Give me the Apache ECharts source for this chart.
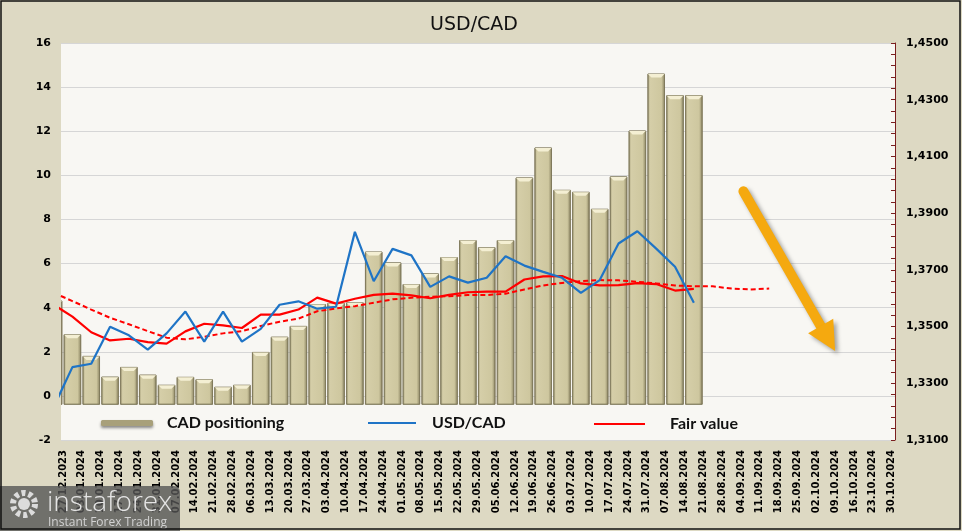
<!DOCTYPE html>
<html>
<head>
<meta charset="utf-8">
<script src="https://cdn.jsdelivr.net/npm/echarts@6/dist/echarts.min.js"></script>
<style>
html,body{margin:0;padding:0;background:#ddd9c3;}
#c{width:962px;height:531px;}
</style>
</head>
<body>
<div id="c"></div>
<script>
// ---------- DATA ----------
const dateLabels = ['27.12.2023','03.01.2024','10.01.2024','17.01.2024','24.01.2024','31.01.2024','07.02.2024','14.02.2024','21.02.2024','28.02.2024','06.03.2024','13.03.2024','20.03.2024','27.03.2024','03.04.2024','10.04.2024','17.04.2024','24.04.2024','01.05.2024','08.05.2024','15.05.2024','22.05.2024','29.05.2024','05.06.2024','12.06.2024','19.06.2024','26.06.2024','03.07.2024','10.07.2024','17.07.2024','24.07.2024','31.07.2024','07.08.2024','14.08.2024','21.08.2024','28.08.2024','04.09.2024','11.09.2024','18.09.2024','25.09.2024','02.10.2024','09.10.2024','16.10.2024','23.10.2024','30.10.2024'];
// weekly values; first entry is the week before the first label (partly cut off)
const cadPositioning = [4.3, 2.77, 1.79, 0.85, 1.29, 0.94, 0.48, 0.84, 0.73, 0.39, 0.48, 1.97, 2.66, 3.15, 4.14, 4.19, 4.22, 6.52, 6.03, 5.05, 5.53, 6.27, 7.04, 6.72, 7.04, 9.88, 11.24, 9.32, 9.23, 8.46, 9.93, 12.01, 14.59, 13.61, 13.61];
const usdCad = [1.3216, 1.3357, 1.3369, 1.3499, 1.3469, 1.3419, 1.3476, 1.3553, 1.3447, 1.3553, 1.3447, 1.3492, 1.3577, 1.3589, 1.3563, 1.3570, 1.3834, 1.3660, 1.3774, 1.3751, 1.3640, 1.3677, 1.3655, 1.3672, 1.3748, 1.3715, 1.3693, 1.3672, 1.3619, 1.3664, 1.3793, 1.3836, 1.3775, 1.3711, 1.3584];
const fairValue = [1.3577, 1.3535, 1.3480, 1.3451, 1.3457, 1.3445, 1.3440, 1.3483, 1.3510, 1.3504, 1.3495, 1.3542, 1.3542, 1.3560, 1.3602, 1.3581, 1.3598, 1.3612, 1.3616, 1.3610, 1.3600, 1.3612, 1.3621, 1.3623, 1.3623, 1.3666, 1.3677, 1.3678, 1.3652, 1.3645, 1.3646, 1.3653, 1.3650, 1.3627, 1.3633];
const fairValueTrend = [1.3619, 1.3590, 1.3560, 1.3531, 1.3508, 1.3484, 1.3461, 1.3455, 1.3464, 1.3476, 1.3484, 1.3502, 1.3517, 1.3528, 1.3554, 1.3564, 1.3572, 1.3584, 1.3596, 1.3602, 1.3605, 1.3607, 1.3611, 1.3611, 1.3616, 1.3631, 1.3645, 1.3654, 1.3660, 1.3664, 1.3663, 1.3658, 1.3652, 1.3645, 1.3642, 1.3642, 1.3634, 1.3631, 1.3634];
const leftTicks = [-2, 0, 2, 4, 6, 8, 10, 12, 14, 16];
const rightTicks = [1.31, 1.33, 1.35, 1.37, 1.39, 1.41, 1.43, 1.45];
// arrow annotation (x in week index, y on left axis)
const arrowStart = [36.13, 9.28];
const arrowEnd = [41.0, 2.03];

// ---------- helpers ----------
const firstIndex = -1; // first data value sits one week before first label
function toXY(arr) { return arr.map((v, i) => [firstIndex + i + 0.5, v]); }
const labelPositions = dateLabels.map((d, i) => i);
const minorRight = [];
for (let k = 0; k <= 35; k++) minorRight.push(+(rightTicks[0] + k * 0.004).toFixed(4));

const barBase = -0.38;
const barGrad = new echarts.graphic.LinearGradient(0, 0, 1, 0, [
  {offset: 0, color: '#a39c77'},
  {offset: 0.14, color: '#d5cea8'},
  {offset: 0.8, color: '#cec79f'},
  {offset: 1, color: '#8a8361'}
]);

function renderBar(params, api) {
  const x = api.value(0), v = api.value(1);
  const top = api.coord([x, v]);
  const base = api.coord([x, barBase]);
  const w = api.size([1, 0])[0] * 0.88;
  const l = top[0] - w / 2;
  const h = base[1] - top[1];
  return {
    type: 'group',
    children: [
      {type: 'rect', shape: {x: l, y: top[1], width: w, height: h},
       style: {fill: barGrad, stroke: '#7e7759', lineWidth: 0.8}},
      {type: 'polygon', shape: {points: [[l, top[1]], [l + w, top[1]], [l + w - 3.5, top[1] + 3.5], [l + 3.5, top[1] + 3.5]]},
       style: {fill: '#f4efd3'}}
    ]
  };
}

const chart = echarts.init(document.getElementById('c'), null, {renderer: 'canvas'});
const legendText = {fontFamily: 'Lato', fontWeight: 'bold', fontSize: 16, color: '#111'};

const option = {
  backgroundColor: '#ddd9c3',
  animation: false,
  title: {
    text: 'USD/CAD', left: 469, top: 11, textAlign: 'center',
    textStyle: {fontFamily: 'DejaVu Sans', fontWeight: 'normal', fontSize: 19, color: '#111'}
  },
  legend: [
    {data: [{name: 'CAD positioning', icon: 'roundRect',
             itemStyle: {color: '#a8a07a', shadowBlur: 3, shadowColor: 'rgba(0,0,0,0.45)', shadowOffsetY: 2}}],
     left: 96, top: 410, itemWidth: 52, itemHeight: 6,
     textStyle: Object.assign({padding: [0, 0, 0, 9]}, legendText)},
    {data: [{name: 'USD/CAD', icon: 'rect', itemStyle: {color: '#1f74c6'}}], left: 363, top: 410, itemWidth: 48, itemHeight: 2,
     textStyle: Object.assign({padding: [0, 0, 0, 11]}, legendText)},
    {data: [{name: 'Fair value', icon: 'rect', itemStyle: {color: '#ff0000'}}], left: 589, top: 411, itemWidth: 51, itemHeight: 2,
     textStyle: Object.assign({padding: [0, 0, 0, 20]}, legendText)}
  ],
  grid: {left: 61, right: 67, top: 43, bottom: 91, show: true, backgroundColor: '#f8f7f3', borderWidth: 0},
  xAxis: {
    type: 'value', min: -0.106, max: 44.18,
    axisLine: {show: false, onZero: false},
    axisTick: {show: false},
    splitLine: {show: false},
    axisLabel: {
      customValues: labelPositions,
      formatter: v => dateLabels[Math.round(v)] || '',
      rotate: 90, margin: 10,
      fontFamily: 'DejaVu Sans', fontWeight: 'bold', fontSize: 10, color: '#000'
    }
  },
  yAxis: [
    {type: 'value', min: leftTicks[0], max: leftTicks[leftTicks.length - 1], interval: 2,
     axisLine: {show: false}, axisTick: {show: false},
     splitLine: {lineStyle: {color: '#d6d6d6', width: 1}},
     axisLabel: {margin: 10, fontFamily: 'DejaVu Sans', fontWeight: 'bold', fontSize: 11, color: '#000'}},
    {type: 'value', position: 'right', min: rightTicks[0], max: rightTicks[rightTicks.length - 1],
     axisLine: {show: true, lineStyle: {color: '#7a1f1f', width: 1}},
     axisTick: {show: true, inside: true, length: 4, customValues: minorRight, lineStyle: {color: '#7a1f1f'}},
     splitLine: {show: false},
     axisLabel: {customValues: rightTicks, margin: 11,
       formatter: v => v.toFixed(4).replace('.', ','),
       fontFamily: 'DejaVu Sans', fontWeight: 'bold', fontSize: 11, color: '#000'}}
  ],
  series: [
    {name: 'CAD positioning', type: 'custom', renderItem: renderBar, clip: true,
     yAxisIndex: 0, itemStyle: {color: '#a8a07a'},
     encode: {x: 0, y: 1}, data: toXY(cadPositioning), z: 2},
    {name: 'USD/CAD', type: 'line', yAxisIndex: 1, symbol: 'none', clip: true,
     lineStyle: {color: '#1f74c6', width: 2.2}, itemStyle: {color: '#1f74c6'},
     data: toXY(usdCad), z: 4},
    {name: 'Fair value', type: 'line', yAxisIndex: 1, symbol: 'none', clip: true,
     lineStyle: {color: '#ff0000', width: 2.2}, itemStyle: {color: '#ff0000'},
     data: toXY(fairValue), z: 3},
    {name: 'Fair value trend', type: 'line', yAxisIndex: 1, symbol: 'none', clip: true,
     lineStyle: {color: '#ff0000', width: 2, type: [5, 3]}, itemStyle: {color: '#ff0000'},
     data: toXY(fairValueTrend), z: 3}
  ]
};
chart.setOption(option);

// arrow annotation + watermark + frame
const S = chart.convertToPixel({xAxisIndex: 0, yAxisIndex: 0}, arrowStart);
const T = chart.convertToPixel({xAxisIndex: 0, yAxisIndex: 0}, arrowEnd);
const dx = T[0] - S[0], dy = T[1] - S[1], len = Math.hypot(dx, dy);
const ux = dx / len, uy = dy / len, nx = -uy, ny = ux;
const headLen = 29, headHalf = 14.5;
const B = [T[0] - ux * headLen, T[1] - uy * headLen];
const arrowColor = '#f5a90f';
const shadow = {shadowColor: 'rgba(0,0,0,0.35)', shadowBlur: 4, shadowOffsetX: 3, shadowOffsetY: 3};

chart.setOption({
  graphic: [
    {type: 'line', z: 50, shape: {x1: S[0], y1: S[1], x2: B[0] + ux * 2, y2: B[1] + uy * 2},
     style: Object.assign({stroke: arrowColor, lineWidth: 10, lineCap: 'round'}, shadow)},
    {type: 'polygon', z: 50, shape: {points: [T, [B[0] + nx * headHalf, B[1] + ny * headHalf], [B[0] - nx * headHalf, B[1] - ny * headHalf]]},
     style: Object.assign({fill: arrowColor}, shadow)},
    {type: 'rect', z: 60, shape: {x: 0, y: 486, width: 180, height: 45, r: [0, 6, 0, 0]},
     style: {fill: 'rgba(85,85,85,0.8)'}},
    {type: 'circle', z: 61, shape: {cx: 24, cy: 504, r: 11}, style: {fill: 'none', stroke: '#dcdcdc', lineWidth: 6, lineDash: [4, 3]}},
    {type: 'circle', z: 61, shape: {cx: 24, cy: 504, r: 6}, style: {fill: '#dcdcdc'}},
    {type: 'text', z: 61, x: 47, y: 503, style: {text: 'instaforex', font: '300 28px "Open Sans"', fill: '#e4e4e4', verticalAlign: 'middle'}},
    {type: 'text', z: 61, x: 48, y: 523, style: {text: 'Instant Forex Trading', font: '12px "Open Sans"', fill: '#d2d2d2', verticalAlign: 'middle'}},
    {type: 'rect', z: 70, shape: {x: 1, y: 1, width: 959, height: 528}, style: {fill: 'none', stroke: '#111', lineWidth: 1.5}}
  ]
});
</script>
</body>
</html>
